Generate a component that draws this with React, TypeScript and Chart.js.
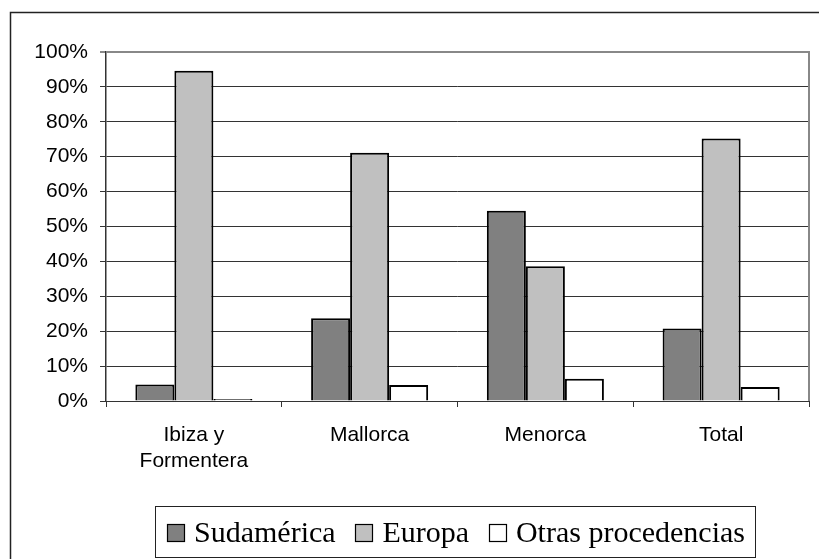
import React, { useEffect, useRef } from "react";
import { Chart, registerables } from "chart.js";
Chart.register(...registerables);

const categories: (string | string[])[] = [["Ibiza y", "Formentera"], "Mallorca", "Menorca", "Total"];
const sudamerica = [4.7, 23.7, 54.5, 20.8];
const europa = [94.6, 71.1, 38.6, 75.2];
const otras = [0.6, 4.6, 6.4, 4.0];
const seriesNames = ["Sudamérica", "Europa", "Otras procedencias"];
const seriesColors = ["#808080", "#C0C0C0", "#FFFFFF"];
const yMin = 0;
const yMax = 100;
const yStep = 10;

const W = 819;
const H = 559;

const decorPlugin = {
  id: "decor",
  beforeDraw(chart: any) {
    const ctx = chart.ctx;
    ctx.save();
    ctx.fillStyle = "#ffffff";
    ctx.fillRect(0, 0, chart.width, chart.height);
    ctx.strokeStyle = "#222222";
    ctx.lineWidth = 1.5;
    ctx.strokeRect(10.5, 12.5, 2000, 2000);
    ctx.restore();
  },
  beforeDatasetsDraw(chart: any) {
    const ctx = chart.ctx;
    const a = chart.chartArea;
    ctx.save();
    ctx.strokeStyle = "#888888";
    ctx.lineWidth = 2;
    ctx.beginPath();
    ctx.moveTo(a.left, a.top);
    ctx.lineTo(a.right, a.top);
    ctx.lineTo(a.right, a.bottom);
    ctx.stroke();
    ctx.restore();
  },
  afterDraw(chart: any) {
    const ctx = chart.ctx;
    ctx.save();
    ctx.font = '30px "Liberation Serif", "Times New Roman", serif';
    const sq = 17;
    const g1 = 10;
    const boxL = 155.5;
    const boxR = 755.5;
    const boxT = 506.5;
    const boxB = 557.5;
    const startX = 167;
    const endX = 745;
    const widths = seriesNames.map((n) => ctx.measureText(n).width);
    const textW = widths.reduce((s, v) => s + v, 0);
    const g2 = Math.max(8, (endX - startX - textW - seriesNames.length * (sq + g1)) / (seriesNames.length - 1));
    ctx.strokeStyle = "#222222";
    ctx.lineWidth = 1;
    ctx.strokeRect(boxL, boxT, boxR - boxL, boxB - boxT);
    let x = startX;
    const baseline = 542;
    seriesNames.forEach((name, i) => {
      const sx = Math.round(x) + 0.5;
      const sy = baseline - sq - 0.5;
      ctx.fillStyle = seriesColors[i];
      ctx.fillRect(sx, sy, sq, sq);
      ctx.strokeStyle = "#000000";
      ctx.lineWidth = 1.2;
      ctx.strokeRect(sx, sy, sq, sq);
      x += sq + g1;
      ctx.fillStyle = "#000000";
      ctx.textBaseline = "alphabetic";
      ctx.textAlign = "left";
      ctx.fillText(name, x, baseline);
      x += widths[i] + g2;
    });
    ctx.restore();
  },
};

export default function App() {
  const ref = useRef<HTMLCanvasElement | null>(null);
  useEffect(() => {
    if (!ref.current) return;
    const values = [sudamerica, europa, otras];
    const chart = new Chart(ref.current, {
      type: "bar",
      data: {
        labels: categories,
        datasets: seriesNames.map((name, i) => ({
          label: name,
          data: values[i],
          backgroundColor: seriesColors[i],
          borderColor: "#000000",
          borderWidth: 2,
          categoryPercentage: 0.666,
          barPercentage: 1,
        })),
      },
      options: {
        animation: false,
        responsive: false,
        devicePixelRatio: 1,
        layout: { padding: { top: 52, right: 10, left: 0, bottom: 0 } },
        plugins: {
          legend: { display: false },
          tooltip: { enabled: false },
          title: { display: false },
        },
        scales: {
          x: {
            afterFit(scale: any) {
              scale.height = 158;
            },
            grid: {
              offset: true,
              drawOnChartArea: false,
              drawTicks: true,
              tickLength: 6,
              color: "#333333",
              lineWidth: 1,
            },
            border: { display: true, color: "#333333", width: 1 },
            ticks: {
              color: "#000000",
              padding: 16,
              maxRotation: 0,
              autoSkip: false,
              font: { family: '"Liberation Sans", Arial, sans-serif', size: 21, lineHeight: 1.2 },
            },
          },
          y: {
            min: yMin,
            max: yMax,
            afterFit(scale: any) {
              scale.width = 106;
            },
            grid: {
              color: (c: any) => (c.tick && c.tick.value === yMax ? "#888888" : "#333333"),
              lineWidth: (c: any) => (c.tick && c.tick.value === yMax ? 2 : 1),
              tickLength: 6,
              drawTicks: true,
            },
            border: { display: true, color: "#333333", width: 1.5 },
            ticks: {
              stepSize: yStep,
              color: "#000000",
              padding: 12,
              font: { family: '"Liberation Sans", Arial, sans-serif', size: 21 },
              callback: (v: any) => `${v}%`,
            },
          },
        },
      },
      plugins: [decorPlugin],
    });
    return () => chart.destroy();
  }, []);
  return (
    <div style={{ position: "absolute", left: 0, top: 0, width: W, height: H, background: "#fff" }}>
      <canvas ref={ref} width={W} height={H} style={{ display: "block", width: W, height: H }} />
    </div>
  );
}
